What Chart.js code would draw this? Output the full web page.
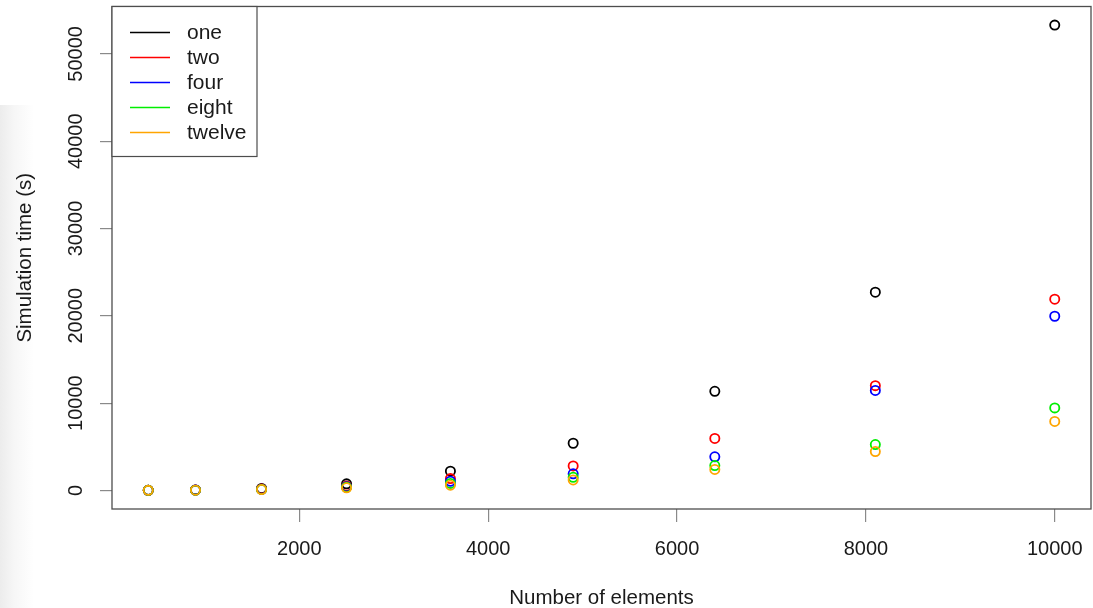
<!DOCTYPE html>
<html>
<head>
<meta charset="utf-8">
<title>Simulation time</title>
<script src="https://cdn.jsdelivr.net/npm/chart.js@4/dist/chart.umd.min.js"></script>
<style>
  html, body { margin: 0; padding: 0; background: #fff; }
  #wrap { position: relative; width: 1093px; height: 608px; }
  #shade {
    position: absolute; left: 0; top: 105px; width: 34px; height: 503px;
    background: linear-gradient(to right, #ececec, #f6f6f6 40%, #ffffff);
  }
  #chart { position: absolute; left: 0; top: 0; }
</style>
</head>
<body>
<div id="wrap">
  <div id="shade"></div>
  <canvas id="chart" width="1093" height="608"></canvas>
</div>
<script>
// Data
const elements = [400, 900, 1600, 2500, 3600, 4900, 6400, 8100, 10000];
const one = [15, 60, 220, 750, 2200, 5400, 11350, 22700, 53300];
const two = [10, 40, 160, 500, 1350, 2800, 5950, 12000, 21900];
const four = [10, 35, 130, 420, 1050, 1900, 3850, 11450, 19950];
const eight = [8, 30, 110, 360, 800, 1500, 2850, 5250, 9450];
const twelve = [8, 25, 100, 300, 600, 1200, 2400, 4450, 7900];

const seriesNames = ['one', 'two', 'four', 'eight', 'twelve'];
const seriesColors = ['#000000', '#ff0000', '#0000ff', '#00ee00', '#ffa500'];
const xTicks = [2000, 4000, 6000, 8000, 10000];
const yTicks = [0, 10000, 20000, 30000, 40000, 50000];

const FONT = '"Liberation Sans", Arial, sans-serif';
const TEXT = '#1a1a1a';

function toPoints(values) {
  return elements.map((x, i) => ({ x: x, y: values[i] }));
}

const datasets = [one, two, four, eight, twelve].map((vals, i) => ({
  label: seriesNames[i],
  data: toPoints(vals),
  borderColor: seriesColors[i],
  backgroundColor: 'rgba(0,0,0,0)',
  pointRadius: 4.6,
  pointBorderWidth: 1.8,
  pointHoverRadius: 4.6,
  order: 5 - i   // later series drawn on top, like R
}));

// box, rotated y labels and legend, R style
const rStyle = {
  id: 'rStyle',
  afterDraw(chart) {
    const { ctx, chartArea: a } = chart;
    const y = chart.scales.y;
    ctx.save();

    // plot box
    ctx.strokeStyle = '#4d4d4d';
    ctx.lineWidth = 1.3;
    ctx.strokeRect(a.left, a.top, a.right - a.left, a.bottom - a.top);

    // y tick labels, parallel to the axis
    ctx.fillStyle = TEXT;
    ctx.font = '20px ' + FONT;
    ctx.textAlign = 'center';
    ctx.textBaseline = 'middle';
    y.ticks.forEach(t => {
      const py = y.getPixelForValue(t.value);
      ctx.save();
      ctx.translate(76, py);
      ctx.rotate(-Math.PI / 2);
      ctx.fillText(String(t.value), 0, 0);
      ctx.restore();
    });

    // legend
    const lx = a.left, ly = a.top;
    ctx.fillStyle = '#ffffff';
    ctx.fillRect(lx, ly, 145, 150);
    ctx.strokeStyle = '#4d4d4d';
    ctx.lineWidth = 1.2;
    ctx.strokeRect(lx, ly, 145, 150);
    ctx.font = '21px ' + FONT;
    ctx.textAlign = 'left';
    chart.data.datasets.forEach((ds, i) => {
      const ry = ly + 26 + i * 25;
      ctx.strokeStyle = ds.borderColor;
      ctx.lineWidth = 1.6;
      ctx.beginPath();
      ctx.moveTo(lx + 18, ry);
      ctx.lineTo(lx + 58, ry);
      ctx.stroke();
      ctx.fillStyle = TEXT;
      ctx.fillText(ds.label, lx + 75, ry + 1);
    });
    ctx.restore();
  }
};

new Chart(document.getElementById('chart'), {
  type: 'scatter',
  data: { datasets: datasets },
  options: {
    responsive: false,
    devicePixelRatio: 1,
    animation: false,
    layout: { autoPadding: false, padding: { top: 6.5, right: 2, left: 0, bottom: 0 } },
    plugins: {
      legend: { display: false },
      tooltip: { enabled: false }
    },
    scales: {
      x: {
        type: 'linear',
        min: 16,
        max: 10384,
        afterBuildTicks: s => { s.ticks = xTicks.map(v => ({ value: v })); },
        afterFit: s => { s.height = 99; s.paddingLeft = 0; s.paddingRight = 0; },
        grid: {
          drawOnChartArea: false,
          drawTicks: true,
          tickLength: 13,
          color: '#8a8a8a',
          lineWidth: 1.2
        },
        border: { display: false },
        ticks: {
          color: TEXT,
          font: { family: FONT, size: 20, lineHeight: 1.1 },
          padding: 16,
          maxRotation: 0,
          callback: v => String(v)
        },
        title: {
          display: true,
          text: 'Number of elements',
          color: TEXT,
          font: { family: FONT, size: 20.5, lineHeight: 0.9 },
          padding: { top: 0, bottom: 0 }
        }
      },
      y: {
        type: 'linear',
        min: -2130,
        max: 55430,
        afterBuildTicks: s => { s.ticks = yTicks.map(v => ({ value: v })); },
        afterFit: s => { s.width = 112; s.paddingTop = 0; s.paddingBottom = 0; },
        grid: {
          drawOnChartArea: false,
          drawTicks: true,
          tickLength: 12,
          color: '#8a8a8a',
          lineWidth: 1.2
        },
        border: { display: false },
        ticks: { display: false },
        title: {
          display: true,
          text: 'Simulation time (s)',
          color: TEXT,
          font: { family: FONT, size: 20.5, lineHeight: 1.1 },
          padding: { top: 14, bottom: 0 }
        }
      }
    }
  },
  plugins: [rStyle]
});
</script>
</body>
</html>
